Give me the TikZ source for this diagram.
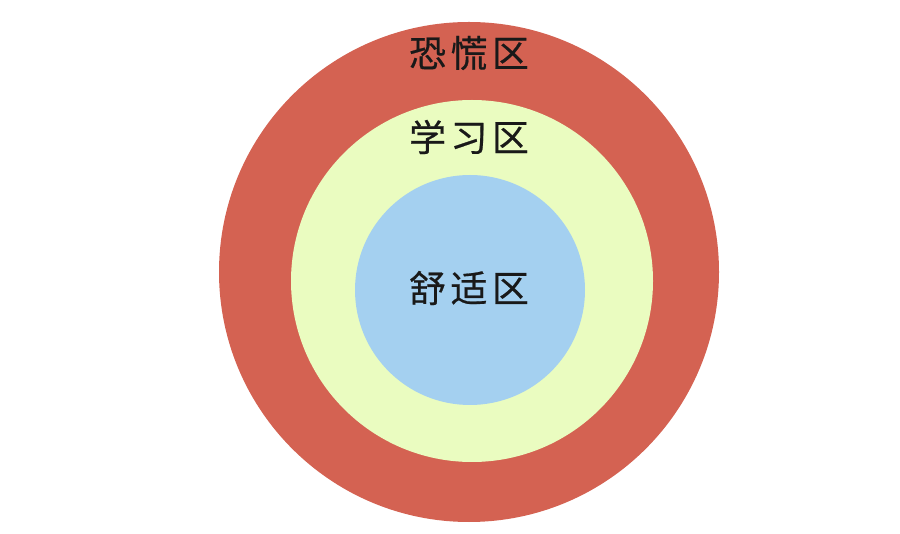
\documentclass[tikz,border=0pt]{standalone}
\usepackage{fontspec}
\setmainfont{Noto Sans CJK SC}[LetterSpace=12,FakeBold=0.5]
\usepackage{xcolor}
\definecolor{panicred}{HTML}{D46252}
\definecolor{learnyellow}{HTML}{EAFCC0}
\definecolor{comfortblue}{HTML}{A4D0F0}

\begin{document}
\begin{tikzpicture}[
    x=1pt,y=-1pt,
    zone/.style={circle,inner sep=0pt,draw=none},
    label/.style={font=\fontsize{37}{37}\selectfont,text=black!90,inner sep=0pt}
  ]
    \useasboundingbox (0,0) rectangle (900,534);
    \node[zone,fill=panicred,minimum size=500pt] (panic) at (469,272) {};
    \node[zone,fill=learnyellow,minimum size=362pt] (learn) at (472,281) {};
    \node[zone,fill=comfortblue,minimum size=230pt] (comfort) at (470,290) {};
    \node[label] (panictxt) at (469,53) {恐慌区};
    \node[label] (learntxt) at (469,137) {学习区};
    \node[label] (comforttxt) at (469,288) {舒适区};
  \end{tikzpicture}
\end{document}
